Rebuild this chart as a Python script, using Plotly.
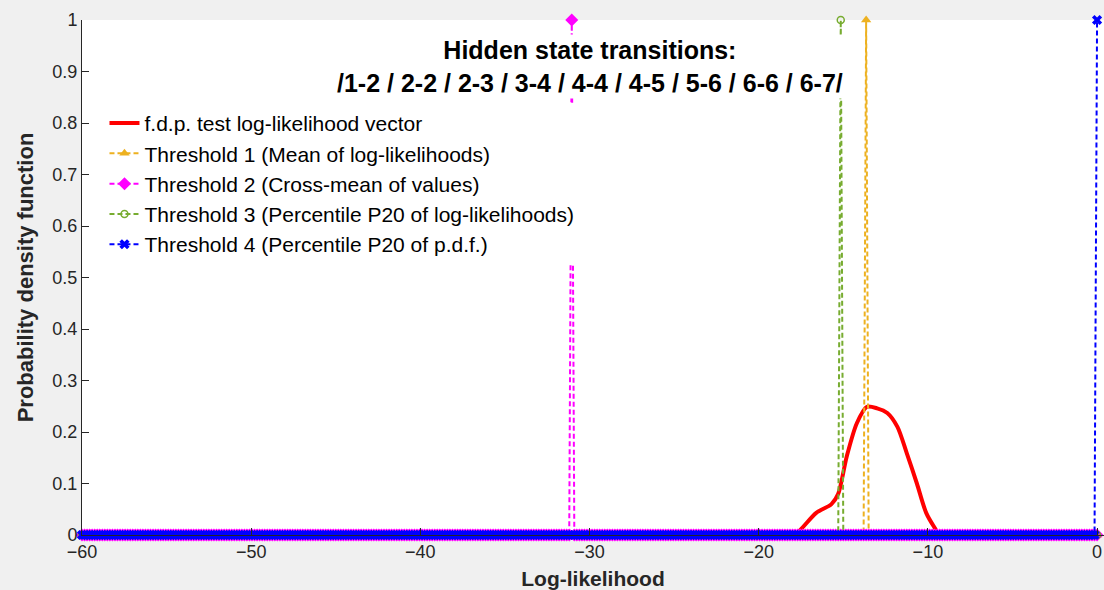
import numpy as np
import plotly.graph_objects as go

# ---- data ----
# evaluation grid of the log-likelihood axis
x_grid = np.round(np.arange(-60, 0.0001, 0.15), 2)

# f.d.p. curve (sparse points)
pdf_x = [-60, -18.6, -17.9, -16.6, -15.7, -15.3, -14.8, -14.2, -13.6, -13.0,
         -12.4, -11.8, -11.25, -10.65, -10.1, -9.6, -9.3, -8.6, 0]
pdf_y = [0, 0, 0, 0.043, 0.060, 0.080, 0.152, 0.217, 0.249, 0.246,
         0.237, 0.210, 0.159, 0.100, 0.043, 0.014, 0, 0, 0]

# thresholds (log-likelihood position of each spike)
threshold_names = [
    "Threshold 1 (Mean of log-likelihoods)",
    "Threshold 2 (Cross-mean of values)",
    "Threshold 3 (Percentile P20 of log-likelihoods)",
    "Threshold 4 (Percentile P20 of p.d.f.)",
]
threshold_values = [-13.65, -31.0, -15.15, 0.0]
threshold_colors = ["#EDB120", "#FF00FF", "#77AC30", "#0000FF"]
threshold_symbols = ["triangle-up", "diamond", "circle-open", "x"]
threshold_sizes = [9, 10, 7, 9]

x_ticks = [-60, -50, -40, -30, -20, -10, 0]
title_lines = ["Hidden state transitions:",
               "/1-2 / 2-2 / 2-3 / 3-4 / 4-4 / 4-5 / 5-6 / 6-6 / 6-7/"]

FONT = "Liberation Sans, Arial, Helvetica, sans-serif"

fig = go.Figure()

fig.add_trace(go.Scatter(
    x=pdf_x, y=pdf_y, mode="lines",
    line=dict(color="#FF0000", width=4, shape="spline", smoothing=0.8),
    name="f.d.p. test log-likelihood vector",
    cliponaxis=False,
))

for name, val, col, sym, sz in zip(threshold_names, threshold_values,
                                   threshold_colors, threshold_symbols,
                                   threshold_sizes):
    idx = int(np.argmin(np.abs(x_grid - val)))
    y_vals = [1.0 if i == idx else 0.0 for i in range(len(x_grid))]
    is_open = sym.endswith("open")
    fig.add_trace(go.Scatter(
        x=x_grid, y=y_vals, mode="lines+markers", name=name,
        line=dict(color=col, width=2, dash="5px,3px"),
        marker=dict(symbol=sym, size=sz, color=col,
                    line=dict(color=col, width=1.5 if is_open else 0)),
        cliponaxis=False,
    ))

fig.add_annotation(
    xref="paper", yref="paper", x=0.4966, y=0.972,
    xanchor="center", yanchor="top", align="center",
    text="<b>" + title_lines[0] + "</b><br><b>" + title_lines[1] + "</b>",
    showarrow=False, bgcolor="white", borderpad=1,
    font=dict(family=FONT, size=25, color="black"),
)

fig.update_layout(
    width=1104, height=590,
    margin=dict(l=82, r=0, t=20, b=55),
    paper_bgcolor="#F0F0F0", plot_bgcolor="white",
    font=dict(family=FONT, color="#262626"),
    showlegend=True,
    legend=dict(
        x=0.022, y=0.839, xanchor="left", yanchor="top",
        bgcolor="white", borderwidth=0,
        font=dict(family=FONT, size=21, color="black"),
        tracegroupgap=0,
    ),
    xaxis=dict(
        range=[-60, 0.41], tickvals=x_ticks,
        ticks="inside", ticklen=7, tickcolor="#262626",
        showline=True, linecolor="#262626", linewidth=1,
        showgrid=False, zeroline=False,
        tickfont=dict(size=18, color="#262626"),
        title=dict(text="<b>Log-likelihood</b>",
                   font=dict(size=21, color="#262626")),
    ),
    yaxis=dict(
        range=[0, 1], dtick=0.1, tick0=0,
        ticks="inside", ticklen=7, tickcolor="#262626",
        showline=True, linecolor="#262626", linewidth=1,
        showgrid=False, zeroline=False,
        tickfont=dict(size=18, color="#262626"),
        title=dict(text="<b>Probability density function</b>",
                   font=dict(size=22, color="#262626"), standoff=12),
    ),
)

fig.write_html(
    "out.html",
    config={"displayModeBar": False},
    post_script="document.body.style.margin='0';"
                "document.body.style.overflow='hidden';",
)
